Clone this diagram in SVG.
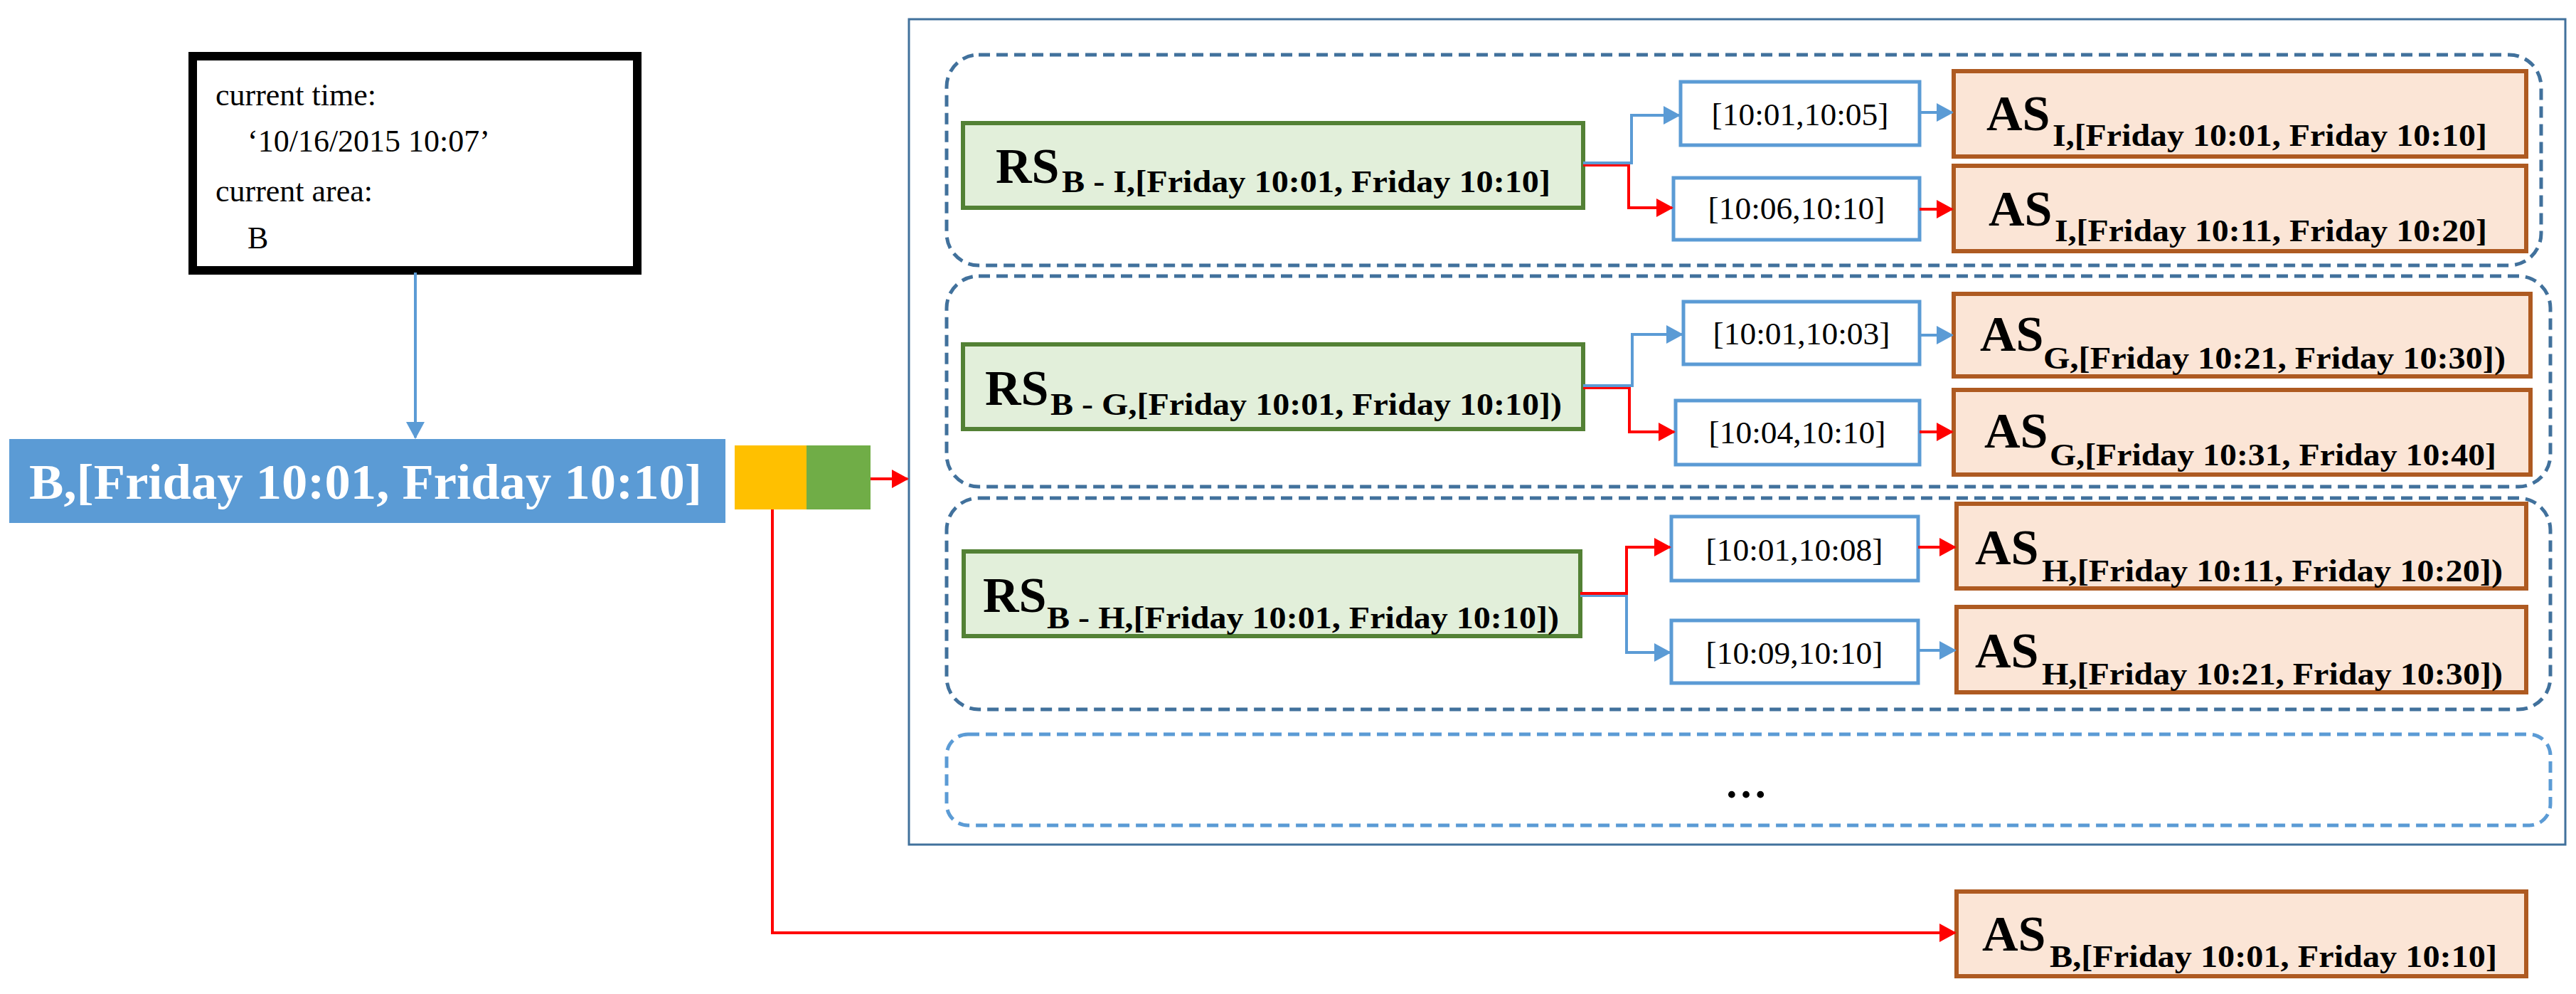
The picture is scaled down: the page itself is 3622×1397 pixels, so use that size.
<svg xmlns="http://www.w3.org/2000/svg" width="3622" height="1397" viewBox="0 0 3622 1397">
<style>
.t{font-family:"Liberation Serif","Times New Roman",serif;fill:#000}
.b{font-weight:bold}
.grp{fill:none;stroke:#41719c;stroke-width:5;stroke-dasharray:16 9}
.grp4{fill:none;stroke:#5b9bd5;stroke-width:5;stroke-dasharray:16 9}
.rs{fill:#e2efda;stroke:#538135;stroke-width:6}
.as{fill:#fbe5d6;stroke:#ae5a21;stroke-width:6}
.iv{fill:#fff;stroke:#5b9bd5;stroke-width:5}
.bl{fill:none;stroke:#5b9bd5;stroke-width:4}
.rd{fill:none;stroke:#ff0000;stroke-width:4}
</style>
<defs>
<marker id="ab" markerUnits="userSpaceOnUse" markerWidth="24" markerHeight="26" refX="22" refY="13" orient="auto"><path d="M0,0 L24,13 L0,26 Z" fill="#5b9bd5"/></marker>
<marker id="ar" markerUnits="userSpaceOnUse" markerWidth="24" markerHeight="26" refX="22" refY="13" orient="auto"><path d="M0,0 L24,13 L0,26 Z" fill="#ff0000"/></marker>
</defs>
<rect width="3622" height="1397" fill="#fff"/>
<g id="info">
<rect x="271" y="79" width="625" height="301" fill="#fff" stroke="#000" stroke-width="12"/>
<text class="t" x="303" y="148" font-size="44">current time:</text>
<text class="t" x="348" y="213" font-size="44">‘10/16/2015  10:07’</text>
<text class="t" x="303" y="283" font-size="44">current area:</text>
<text class="t" x="348" y="349" font-size="44">B</text>
</g>
<g id="current">
<rect x="13" y="617" width="1007" height="118" fill="#5b9bd5"/>
<text class="t b" x="41" y="701" font-size="70" fill="#fff" style="fill:#fff" textLength="946" lengthAdjust="spacingAndGlyphs">B,[Friday 10:01, Friday 10:10]</text>
</g>
<g id="flags">
<rect x="1033" y="626" width="101" height="90" fill="#ffc000"/>
<rect x="1134" y="626" width="90" height="90" fill="#70ad47"/>
</g>
<g id="container">
<rect x="1278" y="27" width="2329" height="1160" fill="none" stroke="#41719c" stroke-width="3"/>
<rect class="grp" x="1331" y="77" width="2242" height="296" rx="45"/>
<rect class="grp" x="1331" y="388" width="2255" height="296" rx="45"/>
<rect class="grp" x="1331" y="700" width="2255" height="297" rx="45"/>
<rect class="grp4" x="1331" y="1032" width="2255" height="128" rx="30"/>
<text class="t b" x="2455" y="1121" font-size="60" text-anchor="middle">…</text>
</g>
<g id="rs1">
<rect class="rs" x="1354" y="173" width="872" height="119"/>
<text class="t b" x="1400" y="257" font-size="70">RS</text>
<text class="t b" x="1493" y="270" font-size="44" textLength="687" lengthAdjust="spacingAndGlyphs">B - I,[Friday  10:01, Friday  10:10]</text>
</g>
<g id="rs2">
<rect class="rs" x="1354" y="484" width="872" height="119"/>
<text class="t b" x="1385" y="569" font-size="70">RS</text>
<text class="t b" x="1477" y="583" font-size="44" textLength="719" lengthAdjust="spacingAndGlyphs">B - G,[Friday 10:01, Friday 10:10])</text>
</g>
<g id="rs3">
<rect class="rs" x="1355" y="775" width="867" height="119"/>
<text class="t b" x="1382" y="860" font-size="70">RS</text>
<text class="t b" x="1472" y="883" font-size="44" textLength="720" lengthAdjust="spacingAndGlyphs">B - H,[Friday 10:01, Friday 10:10])</text>
</g>
<g id="iv1"><rect class="iv" x="2363" y="115" width="336" height="89"/><text class="t" x="2531" y="176" font-size="44" text-anchor="middle" textLength="249" lengthAdjust="spacingAndGlyphs">[10:01,10:05]</text></g>
<g id="iv2"><rect class="iv" x="2353" y="250" width="346" height="87"/><text class="t" x="2526" y="308" font-size="44" text-anchor="middle" textLength="249" lengthAdjust="spacingAndGlyphs">[10:06,10:10]</text></g>
<g id="iv3"><rect class="iv" x="2367" y="424" width="332" height="88"/><text class="t" x="2533" y="484" font-size="44" text-anchor="middle" textLength="249" lengthAdjust="spacingAndGlyphs">[10:01,10:03]</text></g>
<g id="iv4"><rect class="iv" x="2356" y="563" width="343" height="90"/><text class="t" x="2527" y="623" font-size="44" text-anchor="middle" textLength="249" lengthAdjust="spacingAndGlyphs">[10:04,10:10]</text></g>
<g id="iv5"><rect class="iv" x="2350" y="726" width="347" height="90"/><text class="t" x="2523" y="788" font-size="44" text-anchor="middle" textLength="249" lengthAdjust="spacingAndGlyphs">[10:01,10:08]</text></g>
<g id="iv6"><rect class="iv" x="2350" y="872" width="347" height="88"/><text class="t" x="2523" y="933" font-size="44" text-anchor="middle" textLength="249" lengthAdjust="spacingAndGlyphs">[10:09,10:10]</text></g>
<g id="as1"><rect class="as" x="2747" y="100" width="805" height="120"/><text class="t b" x="2793" y="183" font-size="70">AS</text><text class="t b" x="2886" y="205" font-size="44" textLength="611" lengthAdjust="spacingAndGlyphs">I,[Friday  10:01, Friday  10:10]</text></g>
<g id="as2"><rect class="as" x="2747" y="233" width="805" height="120"/><text class="t b" x="2796" y="317" font-size="70">AS</text><text class="t b" x="2889" y="339" font-size="44" textLength="608" lengthAdjust="spacingAndGlyphs">I,[Friday  10:11, Friday  10:20]</text></g>
<g id="as3"><rect class="as" x="2747" y="413" width="811" height="116"/><text class="t b" x="2784" y="493" font-size="70">AS</text><text class="t b" x="2873" y="518" font-size="44" textLength="650" lengthAdjust="spacingAndGlyphs">G,[Friday  10:21, Friday  10:30])</text></g>
<g id="as4"><rect class="as" x="2747" y="548" width="811" height="119"/><text class="t b" x="2790" y="629" font-size="70">AS</text><text class="t b" x="2882" y="654" font-size="44" textLength="628" lengthAdjust="spacingAndGlyphs">G,[Friday  10:31, Friday  10:40]</text></g>
<g id="as5"><rect class="as" x="2751" y="708" width="801" height="119"/><text class="t b" x="2777" y="793" font-size="70">AS</text><text class="t b" x="2871" y="817" font-size="44" textLength="648" lengthAdjust="spacingAndGlyphs">H,[Friday 10:11, Friday 10:20])</text></g>
<g id="as6"><rect class="as" x="2751" y="853" width="801" height="120"/><text class="t b" x="2777" y="938" font-size="70">AS</text><text class="t b" x="2871" y="962" font-size="44" textLength="648" lengthAdjust="spacingAndGlyphs">H,[Friday  10:21, Friday  10:30])</text></g>
<g id="asb"><rect class="as" x="2751" y="1253" width="801" height="119"/><text class="t b" x="2787" y="1336" font-size="70">AS</text><text class="t b" x="2882" y="1359" font-size="44" textLength="629" lengthAdjust="spacingAndGlyphs">B,[Friday  10:01, Friday  10:10]</text></g>
<g id="connectors">
<line class="bl" x1="584" y1="383" x2="584" y2="615" marker-end="url(#ab)"/>
<line class="rd" x1="1224" y1="673" x2="1276" y2="673" marker-end="url(#ar)"/>
<polyline class="rd" points="1086,716 1086,1311 2749,1311" marker-end="url(#ar)"/>
<polyline class="rd" points="2226,232 2290,232 2290,292 2351,292" marker-end="url(#ar)"/>
<polyline class="bl" points="2226,229 2294,229 2294,162 2361,162" marker-end="url(#ab)"/>
<line class="bl" x1="2699" y1="158" x2="2745" y2="158" marker-end="url(#ab)"/>
<line class="rd" x1="2699" y1="294" x2="2745" y2="294" marker-end="url(#ar)"/>
<polyline class="rd" points="2226,545 2291,545 2291,607 2354,607" marker-end="url(#ar)"/>
<polyline class="bl" points="2226,542 2295,542 2295,470 2365,470" marker-end="url(#ab)"/>
<line class="bl" x1="2699" y1="471" x2="2745" y2="471" marker-end="url(#ab)"/>
<line class="rd" x1="2699" y1="607" x2="2745" y2="607" marker-end="url(#ar)"/>
<polyline class="bl" points="2222,837 2287,837 2287,917 2348,917" marker-end="url(#ab)"/>
<polyline class="rd" points="2222,834 2287,834 2287,769 2348,769" marker-end="url(#ar)"/>
<line class="rd" x1="2697" y1="769" x2="2749" y2="769" marker-end="url(#ar)"/>
<line class="bl" x1="2697" y1="914" x2="2749" y2="914" marker-end="url(#ab)"/>
</g>
</svg>
